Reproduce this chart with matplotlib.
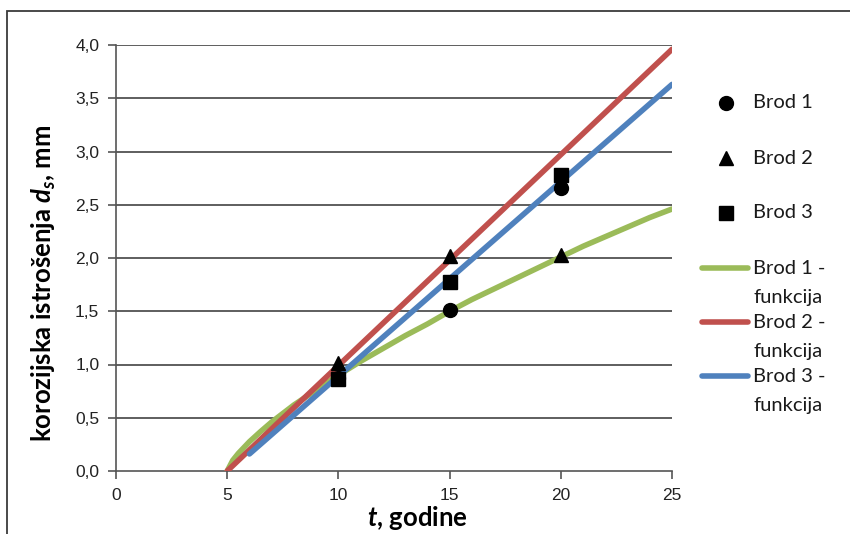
import matplotlib.pyplot as plt
from matplotlib.lines import Line2D
from matplotlib.patches import Rectangle
from matplotlib.ticker import FuncFormatter

plt.rcParams['mathtext.fontset'] = 'custom'
plt.rcParams['mathtext.it'] = 'Lato:italic:bold'
plt.rcParams['mathtext.rm'] = 'Lato:bold'

# izmjerene vrijednosti
t_mjer = [10, 15, 20]
brod1 = [0.87, 1.51, 2.66]
brod2 = [1.01, 2.02, 2.03]
brod3 = [0.86, 1.77, 2.78]

# funkcije (očitane s grafa)
t_f1 = [5, 5.25, 5.5, 6, 6.5, 7, 8, 9, 10, 11, 12, 13, 14, 15, 16, 17,
        18, 19, 20, 21, 22, 23, 24, 25]
f1 = [0, 0.10, 0.165, 0.275, 0.37, 0.46, 0.62, 0.76, 0.90, 1.03, 1.15, 1.27,
      1.38, 1.50, 1.61, 1.71, 1.81, 1.91, 2.01, 2.11, 2.20, 2.29, 2.38, 2.46]
t_f2 = [5, 25]
f2 = [0, 3.96]
t_f3 = [6, 25]
f3 = [0.16, 3.63]

x_ticks = [0, 5, 10, 15, 20, 25]
y_ticks = [0, 0.5, 1.0, 1.5, 2.0, 2.5, 3.0, 3.5, 4.0]

green = '#9BBB59'
red = '#C0504D'
blue = '#4F81BD'

W, H = 850, 534
fig = plt.figure(figsize=(8.5, 5.34), dpi=100)
ax = fig.add_axes([116 / W, 1 - 471 / H, (672 - 116) / W, (471 - 45) / H])

# vanjski okvir
fig.patches.append(Rectangle((7 / W, -0.1), 1.2, 1 - 11 / H + 0.1, transform=fig.transFigure,
                             fill=False, edgecolor='#3a3a3a', linewidth=1.3))

for y in y_ticks[1:]:
    ax.axhline(y, color='#333333', linewidth=1.1, zorder=1)

lw = 4.0
ax.plot(t_f1, f1, color=green, linewidth=lw, solid_capstyle='round', zorder=3)
ax.plot(t_f2, f2, color=red, linewidth=lw, solid_capstyle='round', zorder=3)
ax.plot(t_f3, f3, color=blue, linewidth=lw, solid_capstyle='round', zorder=3)
ax.plot(t_mjer, brod1, 'o', color='black', markersize=10, zorder=4)
ax.plot(t_mjer, brod2, '^', color='black', markersize=10.5, zorder=4)
ax.plot(t_mjer, brod3, 's', color='black', markersize=10.5, zorder=4)

ax.set_xlim(0, 25)
ax.set_ylim(0, 4)
ax.set_xticks(x_ticks)
ax.set_yticks(y_ticks)
ax.yaxis.set_major_formatter(FuncFormatter(lambda v, p: f'{v:.1f}'.replace('.', ',')))
for s in ['top', 'right']:
    ax.spines[s].set_visible(False)
for s in ['left', 'bottom']:
    ax.spines[s].set_color('#555555')
    ax.spines[s].set_linewidth(1.2)
ax.spines['bottom'].set_zorder(2)
ax.tick_params(direction='out', length=6, width=1.2, color='#555555',
               labelsize=12.5, labelcolor='#222222', pad=6)
for lab in ax.get_xticklabels() + ax.get_yticklabels():
    lab.set_fontfamily('Liberation Sans')

ax.set_xlabel('$t$, godine', fontfamily='Lato', fontweight='bold', fontsize=18.5)
ax.set_ylabel('korozijska istrošenja $d_s$, mm', fontfamily='Lato', fontweight='bold', fontsize=18.5)
ax.xaxis.set_label_coords((417 - 116) / 556, -33 / 426)
ax.yaxis.set_label_coords(-58 / 556, (471 - 283) / 426)

# legenda
leg_font = dict(fontfamily='Lato', fontsize=14.5, color='#1a1a1a', va='center', ha='left')
for mk, ms, y, txt in [('o', 10, 103, 'Brod 1'), ('^', 10.5, 158, 'Brod 2'), ('s', 10.5, 213, 'Brod 3')]:
    fig.add_artist(Line2D([726 / W], [1 - y / H], marker=mk, markersize=ms, color='black',
                          linestyle='none', transform=fig.transFigure))
    fig.text(753 / W, 1 - y / H, txt, **leg_font)
for col, y, txt in [(green, 268, 'Brod 1 -'), (red, 322, 'Brod 2 -'), (blue, 376, 'Brod 3 -')]:
    fig.add_artist(Line2D([702 / W, 748 / W], [1 - y / H, 1 - y / H], color=col, linewidth=lw,
                          solid_capstyle='round', transform=fig.transFigure))
    fig.text(753 / W, 1 - y / H, txt, **leg_font)
    fig.text(753 / W, 1 - (y + 29) / H, 'funkcija', **leg_font)

fig.savefig('out.png', dpi=100)
